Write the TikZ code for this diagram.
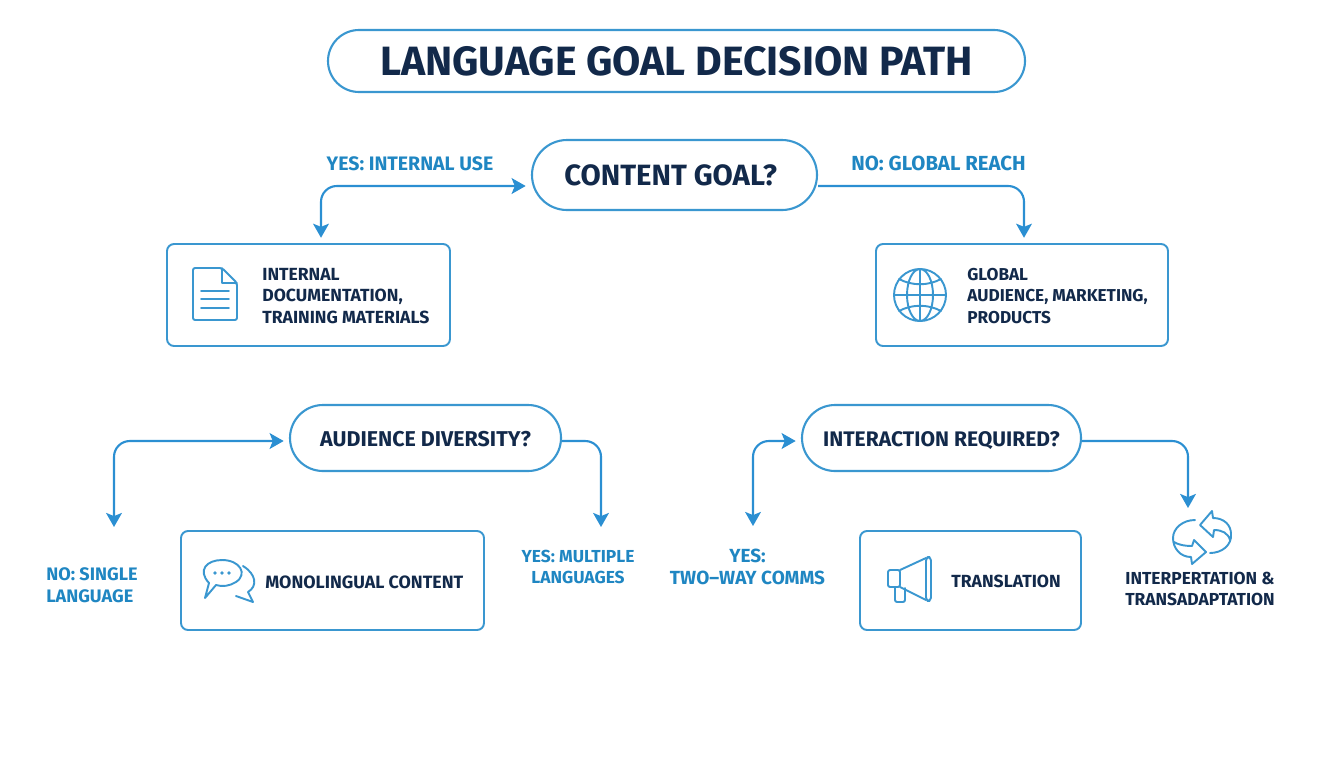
\documentclass[tikz,border=0pt]{standalone}
\usepackage{fontspec}
\setmainfont{Fira Sans}
\usetikzlibrary{arrows.meta, shapes.misc}
\definecolor{navy}{HTML}{12294A}
\definecolor{linkblue}{HTML}{2B8FD2}
\definecolor{labelblue}{HTML}{1F86C2}
\definecolor{edgeblue}{HTML}{3A97D0}
\tikzset{
    pill/.style={rounded rectangle, draw=edgeblue, line width=1.2pt, inner sep=0pt, text=navy, font=\bfseries\fontsize{12.2}{14}\selectfont},
    resultbox/.style={rectangle, rounded corners=4pt, draw=edgeblue, line width=1.1pt, inner sep=0pt},
    boxtext/.style={text=navy, font=\bfseries\fontsize{10}{12}\selectfont, align=left, anchor=west, inner sep=0pt},
    branch/.style={text=labelblue, font=\bfseries\fontsize{10.3}{12.4}\selectfont, align=center, inner sep=0pt},
    tip/.tip={Stealth[length=8pt,width=9pt,inset=1.8pt]},
    flow/.style={draw=linkblue, line width=1.2pt, rounded corners=9pt, -tip},
    glyph/.style={draw=edgeblue, line width=1.1pt, line join=round, line cap=round},
}
\begin{document}
\begin{tikzpicture}[x=0.02cm, y=-0.02cm]
    \useasboundingbox (0,0) rectangle (1344,768);

    \node[pill, minimum width=697*0.02cm, minimum height=62*0.02cm, font=\bfseries\fontsize{23.3}{26}\selectfont](title) at (676.5,61) {LANGUAGE GOAL DECISION PATH};
    \node[pill, minimum width=285*0.02cm, minimum height=70*0.02cm, font=\bfseries\fontsize{16.7}{18}\selectfont](goal) at (674.5,175) {CONTENT GOAL?\kern4.5pt};
    \node[pill, minimum width=271*0.02cm, minimum height=66*0.02cm, text height=9.6pt, text depth=0pt](audience) at (425.5,438) {AUDIENCE DIVERSITY?};
    \node[pill, minimum width=279*0.02cm, minimum height=66*0.02cm, text height=9.6pt, text depth=0pt, font=\bfseries\fontsize{12}{14}\selectfont](interaction) at (941.5,438) {INTERACTION REQUIRED?};

    \node[resultbox, minimum width=283*0.02cm, minimum height=102*0.02cm](internal) at (308.5,295) {};
    \node[resultbox, minimum width=292*0.02cm, minimum height=102*0.02cm](global) at (1022,295) {};
    \node[resultbox, minimum width=303*0.02cm, minimum height=99*0.02cm](mono) at (332.5,580.5) {};
    \node[resultbox, minimum width=221*0.02cm, minimum height=99*0.02cm](translation) at (970.5,580.5) {};

    \node[boxtext](internaltext) at (262,296) {INTERNAL\\DOCUMENTATION,\\TRAINING MATERIALS};
    \node[boxtext, font=\bfseries\fontsize{9.8}{12}\selectfont](globaltext) at (967,296) {GLOBAL\\AUDIENCE, MARKETING,\\PRODUCTS};
    \node[boxtext, font=\bfseries\fontsize{10.15}{12}\selectfont](monotext) at (265,582) {MONOLINGUAL CONTENT};
    \node[boxtext](translationtext) at (951,581) {TRANSLATION};
    \node[boxtext, align=center, anchor=center, font=\bfseries\fontsize{9.9}{12}\selectfont](interptext) at (1200,589) {INTERPERTATION \&\\TRANSADAPTATION};

    \node[branch, font=\bfseries\fontsize{11.1}{13}\selectfont](yesinternal) at (410,164) {YES: INTERNAL USE};
    \node[branch, font=\bfseries\fontsize{11.6}{13}\selectfont](noglobal) at (938.5,163) {NO: GLOBAL REACH};
    \node[branch, align=left, anchor=west](nosingle) at (46,585) {NO: SINGLE\\LANGUAGE};
    \node[branch, font=\bfseries\fontsize{9.9}{12.4}\selectfont](yesmultiple) at (578,567) {YES: MULTIPLE\\LANGUAGES};
    \node[branch, font=\bfseries\fontsize{10.8}{12.4}\selectfont](yestwoway) at (747.5,567) {YES:\\TWO--WAY COMMS};

    \coordinate (goalleft) at (321,186);
    \coordinate (goalright) at (1024,186);
    \coordinate (audleft) at (114,441);
    \coordinate (audright) at (601,441);
    \coordinate (intleft) at (753,441);
    \coordinate (intright) at (1188,441);
    \coordinate (audleftend) at (114,527);
    \coordinate (audrightend) at (601,527);
    \coordinate (intleftend) at (753,526);
    \coordinate (intrightend) at (1188,508);

    \draw[flow, tip-tip, shorten <=3pt, shorten >=3pt]
        (goal.west |- goalleft) -- (goalleft) -- (internal.north -| goalleft);
    \draw[flow, shorten >=3pt] (goal.east |- goalright) -- (goalright) -- (global.north -| goalright);
    \draw[flow, tip-tip, shorten <=3pt]
        (audience.west |- audleft) -- (audleft) -- (audleftend);
    \draw[flow] (audience.east |- audright) -- (audright) -- (audrightend);
    \draw[flow, tip-tip, shorten <=3pt]
        (interaction.west |- intleft) -- (intleft) -- (intleftend);
    \draw[flow] (interaction.east |- intright) -- (intright) -- (intrightend);

    % document
    \draw[glyph, rounded corners=1.2pt] (222,268) -- (193,268) -- (193,320) -- (237,320) -- (237,283) -- cycle;
    \draw[glyph] (222,268) -- (222,283) -- (237,283);
    \foreach \y in {291,299,308}
        \draw[glyph] (201,\y) -- (229,\y);

    % globe
    \draw[glyph] (920,295) circle [radius=26];
    \draw[glyph] (920,295) ellipse [x radius=13, y radius=26];
    \draw[glyph] (920,269) -- (920,321) (894,295) -- (946,295);
    \draw[glyph] (899,279) .. controls (912,286) and (928,286) .. (941,279);
    \draw[glyph] (899,311) .. controls (912,304) and (928,304) .. (941,311);

    % speech bubbles
    \draw[glyph] (209,583) .. controls (197,570) and (207,560) .. (222,560) .. controls (240,560) and (248,574) .. (236,582) .. controls (230,586) and (222,587) .. (216,585) -- (205,598) -- cycle;
    \draw[glyph] (243,566) .. controls (256,574) and (258,586) .. (248,592) -- (253,602) -- (236,596);
    \foreach \x in {215,222,229}
        \fill[edgeblue] (\x,573) circle [radius=1.8];

    % megaphone
    \draw[glyph, rounded corners=1.2pt] (900,570) -- (888,570) -- (888,587) -- (900,587) -- cycle;
    \draw[glyph] (900,570) -- (926,558) (900,587) -- (926,600);
    \draw[glyph, rounded corners=2pt] (926,557) -- (931,557) -- (931,601) -- (926,601) -- cycle;
    \draw[glyph, rounded corners=1.2pt] (895,587) -- (895,602) -- (905,602) -- (905,588);

    % sync arrows
    \draw[glyph] (1210,553) .. controls (1222,553) and (1232,545) .. (1231,534) .. controls (1231,525) and (1224,518) .. (1213,518) -- (1212,511) -- (1200,525) -- (1213,537) -- (1214,530) .. controls (1222,530) and (1228,533) .. (1230,540);
    \draw[glyph] (1195,520) .. controls (1183,520) and (1173,528) .. (1173,538) .. controls (1173,548) and (1180,557) .. (1191,557) -- (1192,564) -- (1206,552) -- (1194,540) -- (1192,546) .. controls (1183,546) and (1177,544) .. (1174,542);
\end{tikzpicture}
\end{document}
